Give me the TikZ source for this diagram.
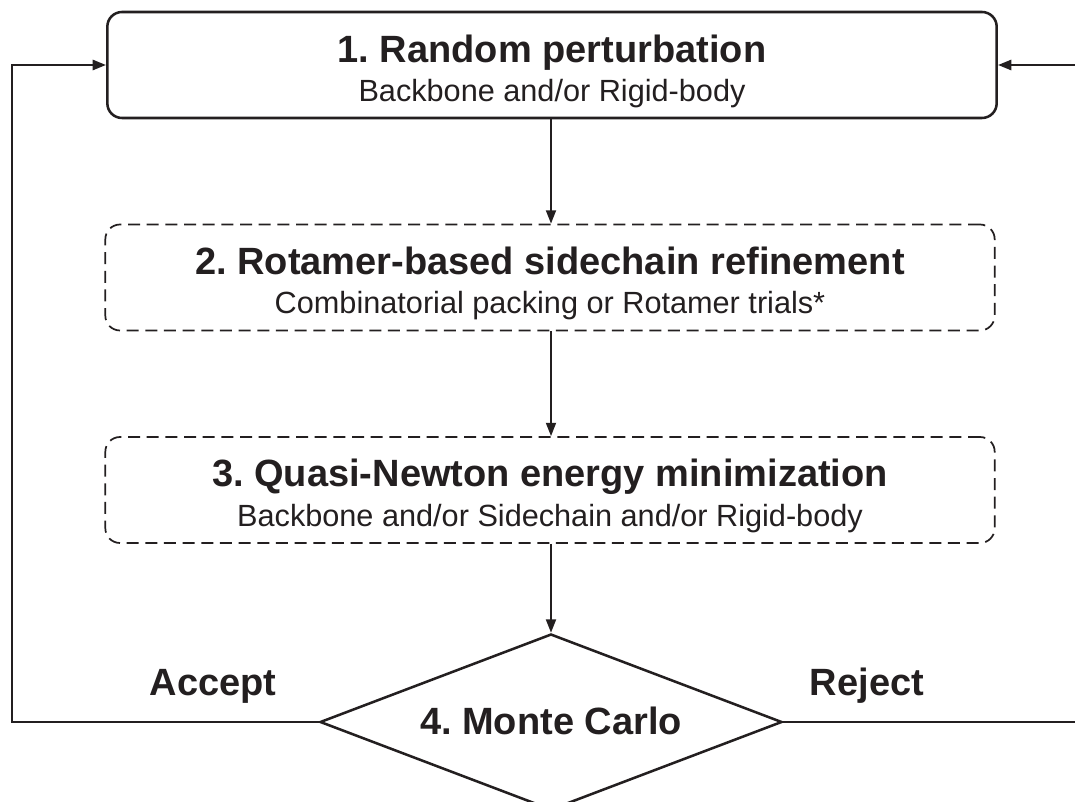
\documentclass[tikz,border=0pt]{standalone}
\usepackage{fontspec}
\setmainfont{Liberation Sans}
\usetikzlibrary{shapes.geometric,arrows.meta}
\definecolor{ink}{HTML}{231F20}
\frenchspacing
\begin{document}
\begin{tikzpicture}[x=0.75pt,y=-0.75pt,
  color=ink,
  line width=1.9pt,
  arr/.style={-{Triangle[length=10pt,width=7.5pt]}, line width=1.4pt},
  box/.style={draw, rectangle, rounded corners=11pt, minimum width=667pt, minimum height=79.5pt, inner sep=0pt},
  dbox/.style={box, line width=1.3pt, dash pattern=on 9pt off 5pt},
  ttl/.style={anchor=base, inner sep=0pt, font=\bfseries\fontsize{28.5}{30}\selectfont},
  sub/.style={anchor=base, inner sep=0pt, font=\fontsize{23}{26}\selectfont},
  lbl/.style={anchor=base, inner sep=0pt, font=\bfseries\fontsize{28.5}{30}\selectfont}
]
\useasboundingbox (0,0) rectangle (1075,802);
\node[box] (b1) at (552,65) {};
\node[ttl] (b1t) at ([yshift=2.2pt]b1.center) {1. Random perturbation};
\node[sub] (b1s) at ([yshift=-27.5pt]b1.center) {Backbone and/or Rigid-body};
\node[dbox] (b2) at (550,277.5) {};
\node[ttl] (b2t) at ([yshift=2.6pt]b2.center) {2. Rotamer-based sidechain refinement};
\node[sub] (b2s) at ([yshift=-27.2pt]b2.center) {Combinatorial packing or Rotamer trials*};
\node[dbox] (b3) at (550,490) {};
\node[ttl] (b3t) at ([yshift=3pt]b3.center) {3. Quasi-Newton energy minimization};
\node[sub] (b3s) at ([yshift=-27pt]b3.center) {Backbone and/or Sidechain and/or Rigid-body};
\node[diamond, draw, aspect=2.625, minimum width=346.5pt, minimum height=132pt, inner sep=0pt] (mc) at (551,722) {};
\node[lbl] (mct) at ([yshift=-9.5pt]mc.center) {4. Monte Carlo};
\node[lbl] (acc) at (213,695) {Accept};
\node[lbl] (rej) at (867,695) {Reject};
\coordinate (lt) at (12,65);
\coordinate (lb) at (12,722);
\coordinate (rt) at (1080,65);
\coordinate (rb) at (1080,722);
\draw[arr] (b1.south -| mc.north) -- (b2.north -| mc.north);
\draw[arr] (b2.south -| mc.north) -- (b3.north -| mc.north);
\draw[arr] (b3.south -| mc.north) -- (mc.north);
\draw[arr, line width=1.9pt] (mc.west) -- (lb) -- (lt) -- (b1.west);
\draw[arr, line width=1.9pt] (mc.east) -- (rb) -- (rt) -- (b1.east);
\end{tikzpicture}
\end{document}
